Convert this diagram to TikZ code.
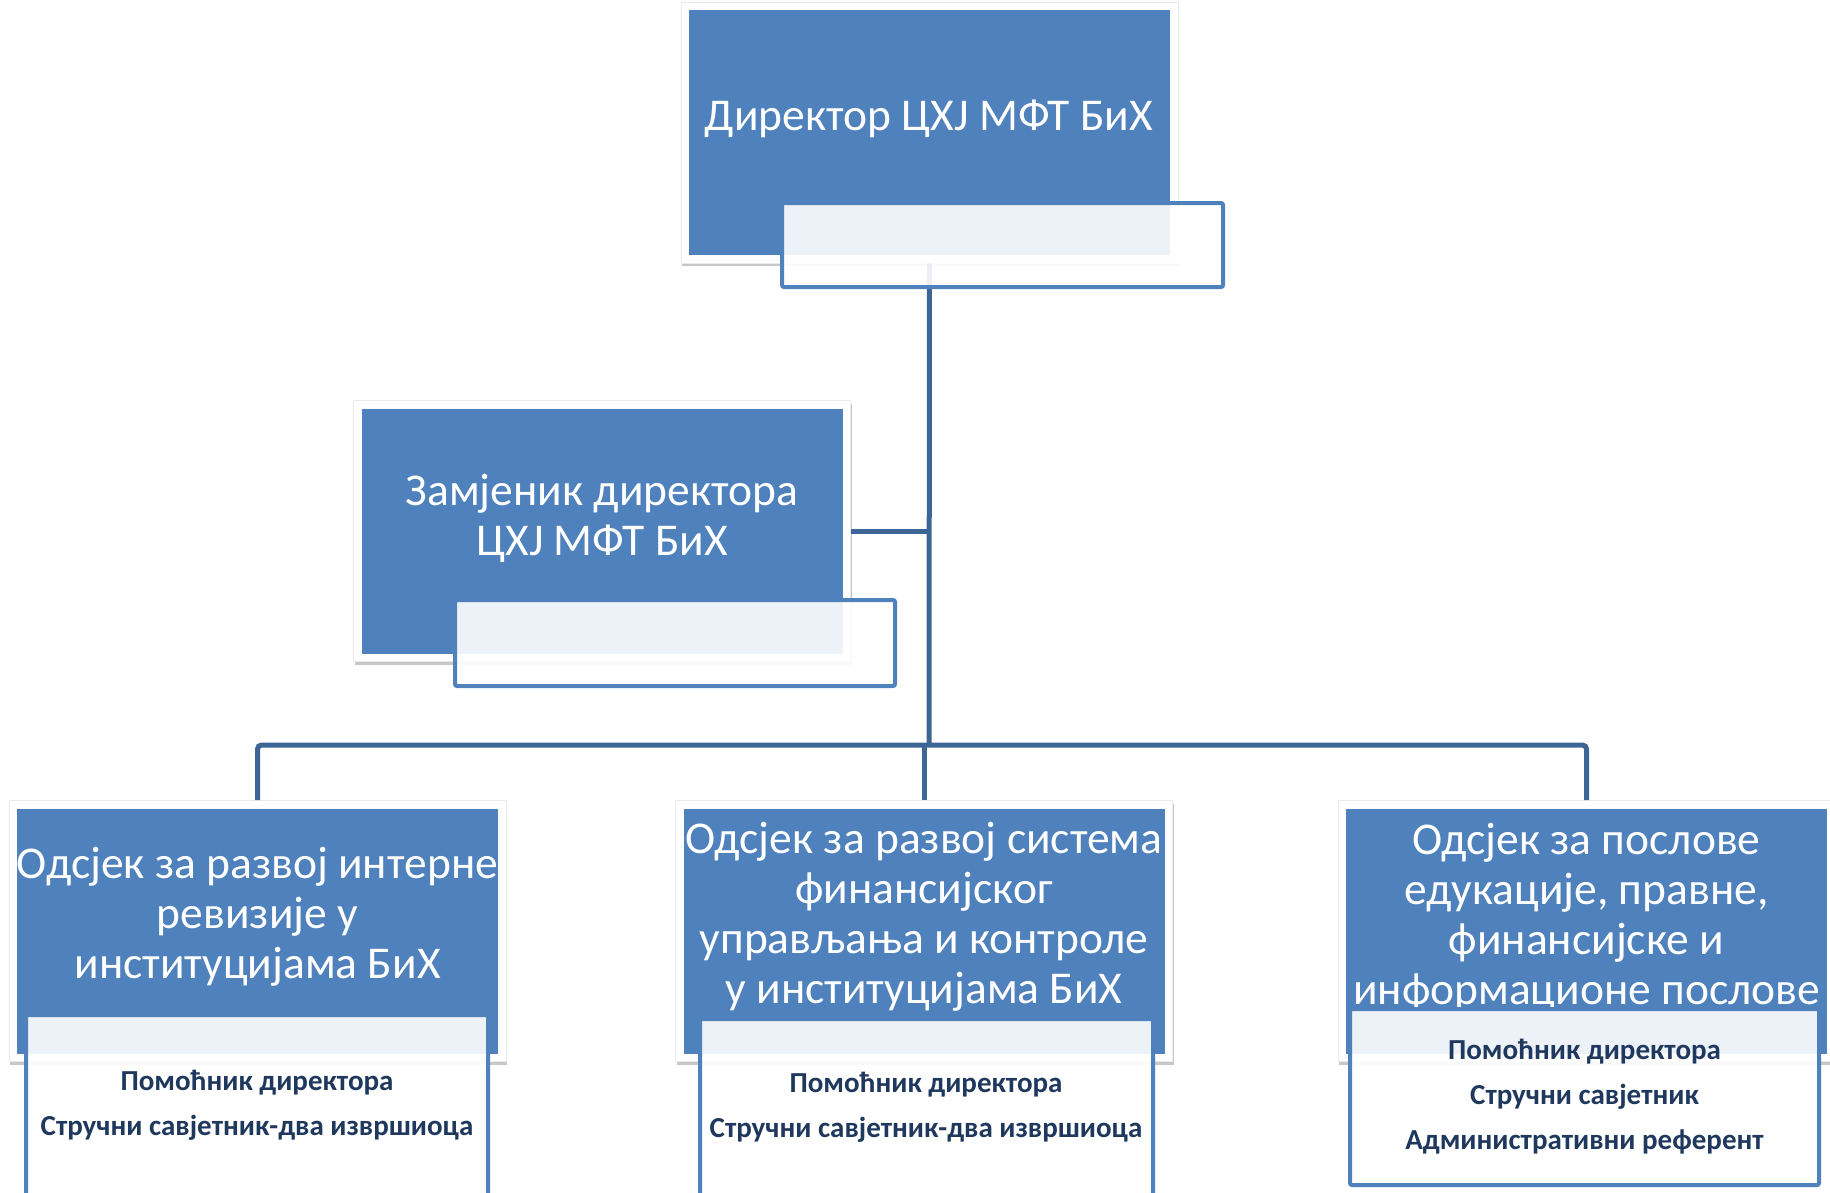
\documentclass[tikz,border=0pt]{standalone}
\usepackage{fontspec}
\setmainfont{Carlito}
\definecolor{boxblue}{RGB}{79,129,189}
\definecolor{linkblue}{RGB}{61,101,150}
\definecolor{navy}{RGB}{31,56,93}
\begin{document}
\begin{tikzpicture}[x=1pt,y=-1pt,
  frame/.style={draw=black!8, line width=0.6pt, fill=white, inner sep=0pt, minimum width=497pt, minimum height=261pt,
    preaction={fill=black!22, draw=none, transform canvas={xshift=1pt, yshift=-3pt}}},
  bluebox/.style={fill=boxblue, draw=none, inner sep=0pt, minimum width=481pt, minimum height=245pt},
  overlay/.style={fill=white, fill opacity=0.9, draw=boxblue, draw opacity=1, line width=4pt, rounded corners=2pt, inner sep=0pt},
  title/.style={text=white, align=center, inner sep=0pt, font=\fontsize{45.5}{50}\selectfont},
  staff/.style={text=navy, align=center, inner sep=0pt, font=\bfseries\fontsize{29}{45}\selectfont},
  link/.style={draw=linkblue, line width=5pt}
]
\useasboundingbox (0,0) rectangle (1830,1192);

% frames
\node[frame] (dirF) at (929.5,132.5) {};
\node[frame] (depF) at (602,531) {};
\node[frame] (leftF) at (257.5,931) {};
\node[frame] (midF) at (924,931) {};
\node[frame] (rightF) at (1586.5,931) {};

% connectors
\coordinate (bus) at (929,745);
\draw[link] (dirF.south) -- (bus);
\draw[link] (depF.east) -- (depF.east -| bus);
\draw[link, rounded corners=4pt] (leftF.north) -- (leftF.north |- bus) -- (rightF.north |- bus) -- (rightF.north);
\draw[link] (midF.north |- bus) -- (midF.north);

% blue boxes
\node[bluebox] (dir) at (dirF.center) {};
\node[bluebox] (dep) at (depF.center) {};
\node[bluebox] (left) at (leftF.center) {};
\node[bluebox] (mid) at (midF.center) {};
\node[bluebox] (right) at (rightF.center) {};

% titles
\node[title] (dirT) at (929,119) {Директор ЦХЈ МФТ БиХ};
\node[title] (depT) at (602,518) {Замјеник директора\\ЦХЈ МФТ БиХ};
\node[title] (leftT) at (257.5,917) {Одсјек за развој интерне\\ревизије у\\институцијама БиХ};
\node[title] (midT) at (924,917) {Одсјек за развој система\\финансијског\\управљања и контроле\\у институцијама БиХ};
\node[title] (rightT) at (1586.5,917.5) {Одсјек за послове\\едукације, правне,\\финансијске и\\информационе послове};

% overlays
\node[overlay, minimum width=441pt, minimum height=84pt] (dirO) at (1002.5,245) {};
\node[overlay, minimum width=440pt, minimum height=86pt] (depO) at (675,643) {};
\node[overlay, minimum width=462pt, minimum height=200pt] (leftO) at (257,1115) {};
\node[overlay, minimum width=453pt, minimum height=200pt] (midO) at (926.5,1119) {};
\node[overlay, minimum width=469pt, minimum height=176pt] (rightO) at (1584.5,1097) {};

% staff texts
\node[staff] (leftS) at (257,1105) {Помоћник директора\\Стручни савјетник-два извршиоца};
\node[staff] (midS) at (926,1107.5) {Помоћник директора\\Стручни савјетник-два извршиоца};
\node[staff] (rightS) at (1584.5,1096.5) {Помоћник директора\\Стручни савјетник\\Административни референт};
\end{tikzpicture}
\end{document}
